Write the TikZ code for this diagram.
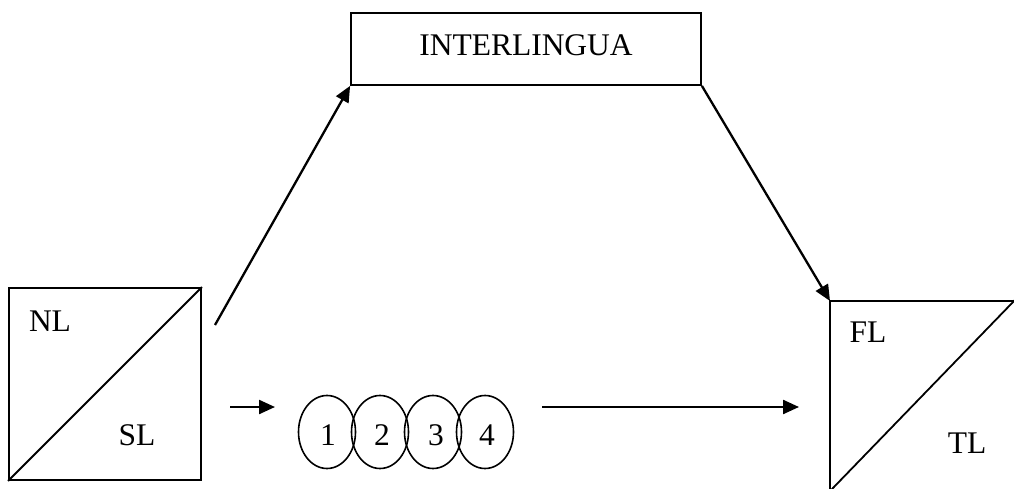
\documentclass[tikz,border=0pt]{standalone}
\usepackage{fontspec}
\setmainfont{Liberation Serif}
\usetikzlibrary{arrows.meta,shapes.geometric,calc}
\begin{document}
\begin{tikzpicture}[x=1pt,y=-1pt,
  frame/.style={draw,line width=1.8pt,inner sep=0pt},
  lbl/.style={font=\fontsize{31.5}{36}\selectfont,inner sep=0pt},
  flow/.style={line width=2.3pt,-{Triangle[length=16pt,width=14pt]}},
  stage/.style={draw,ellipse,line width=1.6pt,minimum width=57pt,minimum height=73pt,inner sep=0pt}]
\useasboundingbox (0,0) rectangle (1014,489);

% source side: split square
\node[frame,minimum width=192pt,minimum height=192pt] (src) at (105,384) {};
\draw[line width=1.8pt] (src.south west) -- (src.north east);
\node[lbl] (nl) at (50,321) {NL};
\node[lbl] (sl) at (137,435) {SL};

% interlingua box
\node[frame,minimum width=350pt,minimum height=72pt] (inter) at (526,49) {};
\node[lbl] (intertxt) at (526,45) {INTERLINGUA};

% target side: split square, cut by the page edge
\coordinate (tgt) at (830,301);
\coordinate (tgtright) at (1020,301);
\coordinate (tgtbottom) at (830,495);
\coordinate (diagtop) at (1014,301);
\coordinate (diagbot) at (833,488);
\begin{scope}
  \clip (0,0) rectangle (1014,489);
  \draw[line width=1.8pt] (tgtright) -- (tgt) -- (tgtbottom);
  \draw[line width=1.8pt] ($(diagtop)!-0.05!(diagbot)$) -- ($(diagtop)!1.05!(diagbot)$);
\end{scope}
\node[lbl] (fl) at (868,332) {FL};
\node[lbl] (tl) at (967,443) {TL};

% transfer stages
\node[stage] (s1) at (327,432) {};
\node[stage] (s2) at (380,432) {};
\node[stage] (s3) at (433,432) {};
\node[stage] (s4) at (485,432) {};
\node[lbl] at (328,435) {1};
\node[lbl] at (382,435) {2};
\node[lbl] at (436,435) {3};
\node[lbl] at (487,435) {4};

% connectors
\coordinate (upstart) at (215,325);
\draw[flow] (upstart) -- (inter.south west);
\draw[flow] (inter.south east) -- (tgt);
\coordinate (inA) at (230,407);
\coordinate (inB) at (275,407);
\draw[flow] (inA) -- (inB);
\coordinate (outA) at (542,407);
\coordinate (outB) at (799,407);
\draw[flow] (outA) -- (outB);
\end{tikzpicture}
\end{document}
